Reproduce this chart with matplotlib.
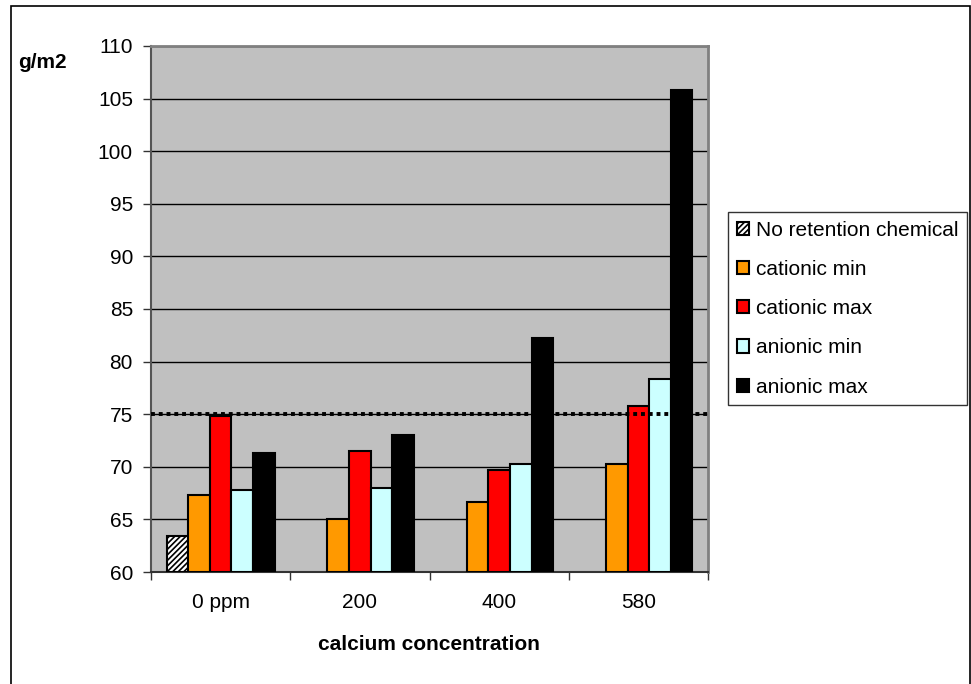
import matplotlib
matplotlib.use('Agg')
import matplotlib.pyplot as plt
import numpy as np
from matplotlib.patches import Rectangle

plt.rcParams['font.family'] = ['Liberation Sans', 'DejaVu Sans']
plt.rcParams['hatch.color'] = '#555555'
plt.rcParams['hatch.linewidth'] = 1.2

#--------------------------------
# data
#--------------------------------
categories = ['0 ppm', '200', '400', '580']
series_names = ['No retention chemical', 'cationic min', 'cationic max',
                'anionic min', 'anionic max']
no_retention = [63.4, np.nan, np.nan, np.nan]
cationic_min = [67.3, 65.0, 66.7, 70.3]
cationic_max = [74.8, 71.5, 69.7, 75.8]
anionic_min = [67.8, 68.0, 70.3, 78.3]
anionic_max = [71.3, 73.0, 82.2, 105.8]
target_line = 75
y_ticks = [60, 65, 70, 75, 80, 85, 90, 95, 100, 105, 110]

series_values = [no_retention, cationic_min, cationic_max, anionic_min, anionic_max]
colors = ['white', '#FF9900', '#FF0000', '#CCFFFF', '#000000']
hatches = ['//////', None, None, None, None]

#--------------------------------
# figure
#--------------------------------
fig = plt.figure(figsize=(9.71, 6.84), dpi=100)
ax = fig.add_axes([151/971, 1 - 572/684, (708 - 151)/971, (572 - 46)/684])
ax.set_facecolor('#C0C0C0')

# outer chart frame
fig.patches.append(Rectangle((11/971, -0.01), (970 - 11)/971, 1 - 6/684 + 0.01,
                             transform=fig.transFigure, fill=False,
                             edgecolor='black', linewidth=1.2))

x = np.arange(len(categories))
bar_w = 0.155
for i, (vals, name) in enumerate(zip(series_values, series_names)):
    vals = np.array(vals, dtype=float)
    # bars start at the axis bottom (60)
    ax.bar(x + (i - 2) * bar_w, vals - 60, bottom=60, width=bar_w,
           color=colors[i], edgecolor='black', linewidth=1.5,
           hatch=hatches[i], label=name, zorder=3)

ax.axhline(target_line, color='black', linewidth=2.8,
           linestyle=(0, (1.0, 1.0)), dash_capstyle='butt', zorder=4)

ax.set_ylim(60, 110)
ax.set_xlim(-0.5, len(categories) - 0.5)
ax.set_yticks(y_ticks)
ax.yaxis.grid(True, color='black', linewidth=1)
ax.set_axisbelow(True)

ax.set_xticks(np.arange(-0.5, len(categories)), minor=False)
ax.set_xticklabels([])
ax.set_xticks(x, minor=True)
ax.set_xticklabels(categories, minor=True)
ax.tick_params(axis='x', which='major', direction='out', length=6, width=1, color='#333333')
ax.tick_params(axis='x', which='minor', length=0, pad=15, labelsize=15)
ax.tick_params(axis='y', direction='out', length=6, width=1, color='#333333',
               pad=7, labelsize=15)

for side in ['top', 'right']:
    ax.spines[side].set_color('#808080')
    ax.spines[side].set_linewidth(2)
ax.spines['left'].set_color('#555555')
ax.spines['left'].set_linewidth(1.5)
ax.spines['bottom'].set_color('#333333')
ax.spines['bottom'].set_linewidth(1.5)

fig.text(18/971, 1 - 62/684, 'g/m2', fontsize=15, fontweight='bold',
         ha='left', va='center')
fig.text(429/971, 1 - 644/684, 'calcium concentration', fontsize=15,
         fontweight='bold', ha='center', va='center')

leg = fig.legend(loc='upper left', bbox_to_anchor=(728/971, 1 - 212/684),
                 fontsize=15, frameon=True, fancybox=False, handlelength=0.6,
                 handleheight=0.6, handletextpad=0.3, labelspacing=0.97,
                 borderpad=0.42, borderaxespad=0)
leg.get_frame().set_edgecolor('black')
leg.get_frame().set_linewidth(1)

fig.savefig('out.png', dpi=100)
